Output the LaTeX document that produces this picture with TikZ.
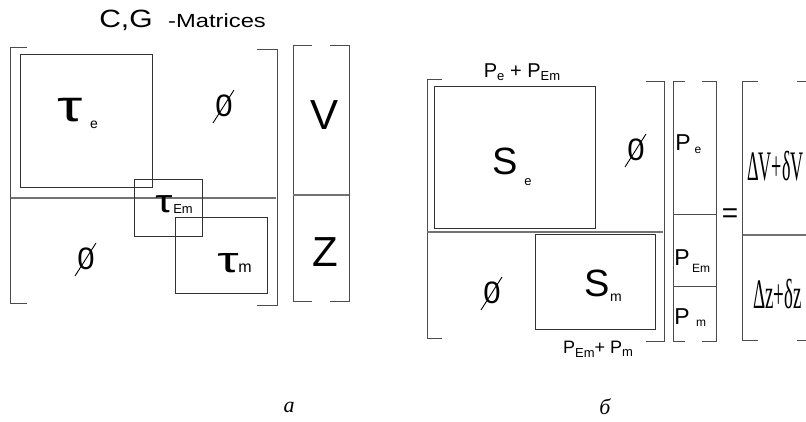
\documentclass[tikz,border=0pt]{standalone}
\usepackage{fontspec}
\setmainfont{Liberation Sans}
\newfontfamily\serifnf{Liberation Serif}
\newcommand\fs[1]{\fontsize{#1}{#1}\selectfont}
\newcommand\LBrk[4]{\draw[ln] (#1+#4,#2) -- (#1,#2) -- (#1,#3) -- (#1+#4,#3);}
\newcommand\RBrk[4]{\draw[ln] (#1-#4,#2) -- (#1,#2) -- (#1,#3) -- (#1-#4,#3);}
\begin{document}
\begin{tikzpicture}[x=1pt,y=-1pt,
  ln/.style={draw=black!70, line width=1pt},
  box/.style={draw=black!80, line width=0.95pt},
  div/.style={draw=black!55, line width=1.2pt},
  lbl/.style={inner sep=0pt, anchor=center},
  slash/.style={draw=black, line width=0.9pt}]
\useasboundingbox (0,0) rectangle (806,421);
% ---------------- part a ----------------
\node[lbl] (cg) at (126,20) {\scalebox{1.2}[1]{\fs{25}C,G}};
\node[lbl, anchor=base west] (mat) at (168,27) {\scalebox{1.25}[1]{\fs{19}-Matrices}};
\LBrk{10}{47}{303}{17}
\RBrk{277}{49}{305}{20}
\draw[box] (20,54) rectangle (152,187);
\draw[div] (11,198) -- (276,198);
\draw[box] (134,179) rectangle (202,236);
\draw[box] (175,217) rectangle (267,293);
\node[lbl] (te) at (70,110) {\scalebox{1.45}[1]{\fs{44}τ}};
\node[lbl] (tes) at (94,125) {\fs{14}e};
\node[lbl] (tem) at (164,204) {\scalebox{1.35}[1]{\fs{32}τ}};
\node[lbl] (tems) at (183,209) {\fs{13}Em};
\node[lbl] (tm) at (228,263) {\scalebox{1.5}[1]{\fs{36}τ}};
\node[lbl] (tms) at (245,268) {\fs{16}m};
\node[lbl] (za1) at (224,106) {\fs{31}0};
\draw[slash] ([shift={(-11,17)}]za1.center) -- ([shift={(10,-16)}]za1.center);
\node[lbl] (za2) at (86,259) {\fs{31}0};
\draw[slash] ([shift={(-11,17)}]za2.center) -- ([shift={(10,-16)}]za2.center);
% vector V Z
\LBrk{293}{45}{301}{19}
\RBrk{349}{45}{301}{19}
\draw[div] (293,195) -- (349,195);
\node[lbl] (v) at (325,115) {\fs{42}V};
\node[lbl] (z) at (325,252) {\fs{42}Z};
\node[lbl] (la) at (289,407) {\serifnf\itshape\fs{22}a};
% ---------------- part b ----------------
\node[lbl] (top) at (522,72) {\fs{20}P\raisebox{-0.3ex}{\fs{13}e} + P\raisebox{-0.3ex}{\fs{13}Em}};
\LBrk{427}{79}{338}{15}
\RBrk{664}{81}{341}{18}
\draw[box] (434,86) rectangle (595,228);
\draw[div] (427,232) -- (663,232);
\draw[box] (535,234) rectangle (655,329);
\node[lbl] (se) at (505,161) {\fs{38}S};
\node[lbl] (ses) at (528,182) {\fs{13}e};
\node[lbl] (sm) at (597,283) {\fs{38}S};
\node[lbl] (sms) at (616,298) {\fs{14}m};
\node[lbl] (zb1) at (636,150) {\fs{31}0};
\draw[slash] ([shift={(-11,17)}]zb1.center) -- ([shift={(10,-16)}]zb1.center);
\node[lbl] (zb2) at (492,293) {\fs{31}0};
\draw[slash] ([shift={(-11,17)}]zb2.center) -- ([shift={(10,-16)}]zb2.center);
\node[lbl] (bot) at (598,349) {\fs{18}P\raisebox{-0.4ex}{\fs{13}Em}+ P\raisebox{-0.3ex}{\fs{13}m}};
% vector P
\LBrk{673}{81}{341}{12}
\RBrk{716}{81}{341}{14}
\draw[ln] (673,214) -- (716,214);
\draw[ln] (673,286) -- (716,286);
\node[lbl] (pe) at (683,143) {\fs{23}P};
\node[lbl] (pes) at (698,150) {\fs{12}e};
\node[lbl] (pem) at (682,258) {\fs{23}P};
\node[lbl] (pems) at (701,268) {\fs{12}Em};
\node[lbl] (pm) at (682,317) {\fs{23}P};
\node[lbl] (pms) at (701,323) {\fs{12}m};
\node[lbl] (eq) at (730,216) {\fs{28}=};
% right vector
\begin{scope}
\clip (700,60) rectangle (806,360);
\LBrk{742}{81}{340}{16}
\RBrk{815}{81}{340}{18}
\draw[div] (743,235) -- (815,235);
\end{scope}
\node[lbl, anchor=west] (dv) at (747,166) {\scalebox{0.43}[1]{\serifnf\fs{42}ΔV+δV}};
\node[lbl, anchor=west] (dz) at (753,294) {\scalebox{0.45}[1]{\serifnf\fs{42}Δz+δz}};
\node[lbl] (lb) at (605,407) {\serifnf\itshape\fs{22}б};
\end{tikzpicture}
\end{document}
